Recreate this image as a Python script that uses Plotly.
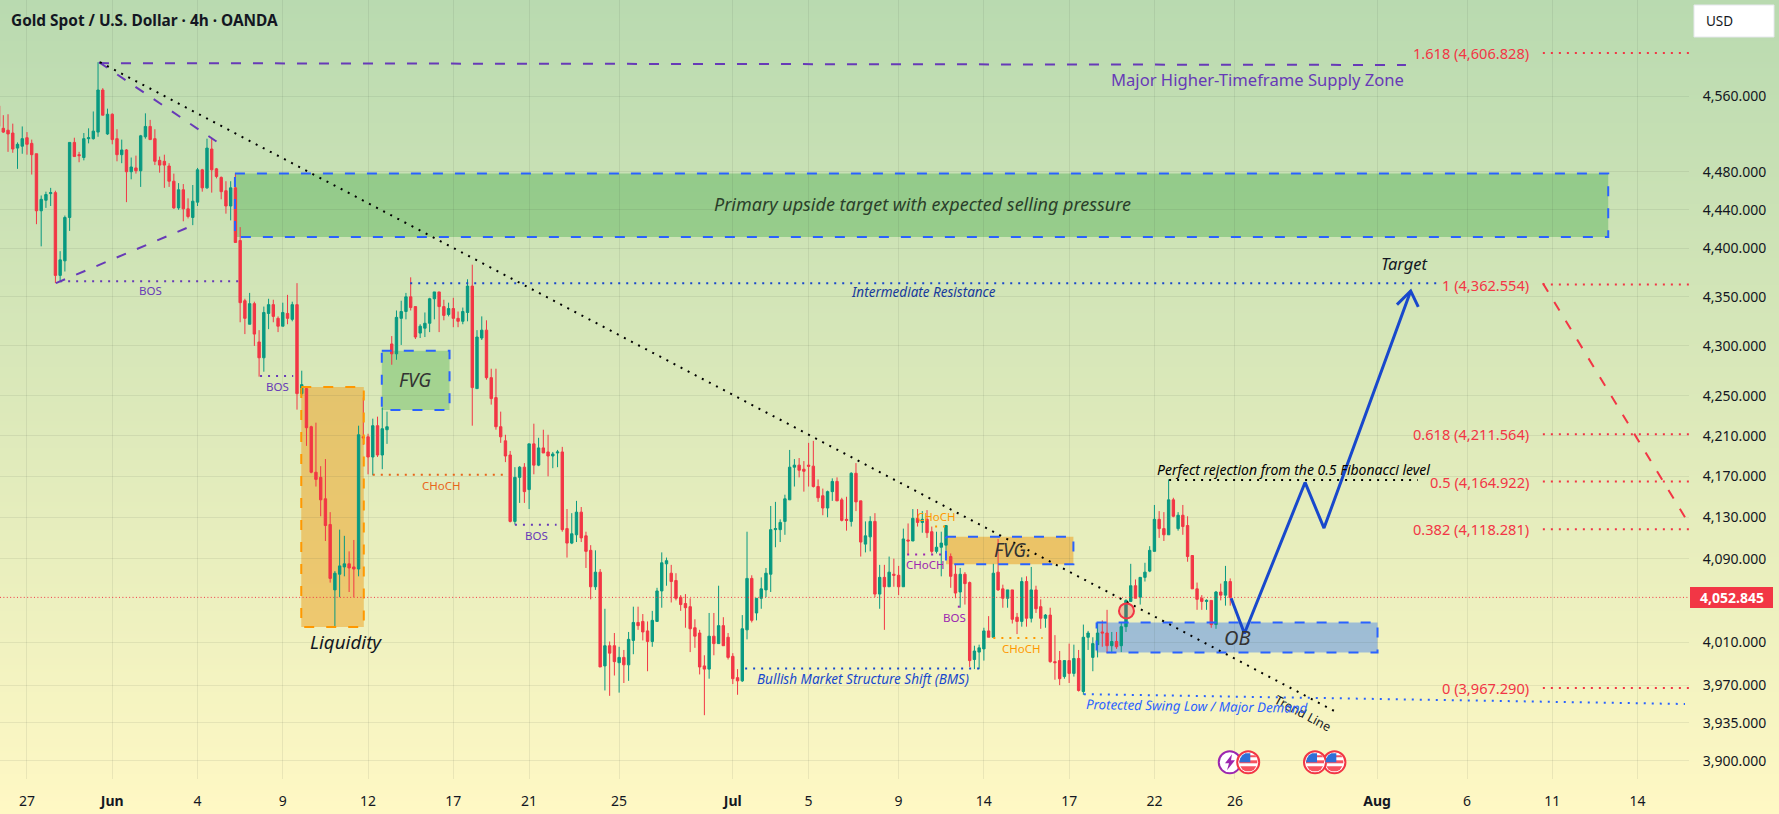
import math
import plotly.graph_objects as go

# --- 4h OHLC for XAU/USD, ten bars per row ---
opens = [
    4550,4526,4524,4521,4505,4507,4516,4510,4499,4439,
    4450,4457,4458,4372,4387,4432,4511,4498,4495,4515,
    4515,4522,4567,4520,4541,4515,4498,4503,4480,4484,
    4481,4517,4528,4515,4492,4491,4486,4470,4442,4461,
    4441,4432,4448,4482,4463,4504,4483,4474,4460,4444,
    4463,4408,4346,4322,4343,4304,4288,4333,4342,4328,
    4320,4333,4327,4342,4252,4257,4219,4174,4169,4148,
    4123,4060,4075,4082,4085,4082,4080,4209,4209,4189,
    4220,4191,4216,4302,4292,4328,4335,4350,4340,4313,
    4318,4323,4348,4355,4340,4332,4338,4328,4325,4334,
    4361,4257,4308,4316,4268,4248,4219,4205,4191,4126,
    4169,4179,4157,4202,4181,4198,4194,4190,4193,4194,
    4119,4105,4113,4135,4112,4098,4063,4077,3988,4007,
    4007,3991,3996,3989,4012,4029,4030,4021,4011,4030,
    4059,4085,4076,4069,4053,4047,4044,4024,4019,3988,
    3985,4016,4009,4026,4015,3997,3977,3974,4022,4071,
    4038,4052,4060,4075,4118,4118,4126,4147,4179,4181,
    4177,4181,4180,4160,4151,4139,4155,4165,4147,4128,
    4126,4173,4146,4104,4111,4126,4056,4072,4063,4075,
    4074,4063,4108,4107,4129,4125,4128,4116,4097,4101,
    4103,4092,4075,4058,4075,4067,3994,4001,4004,4021,
    4015,4077,4061,4052,4060,4034,4030,4068,4033,4060,
    4044,4033,4036,3992,3993,3978,3993,3981,3995,3964,
    4015,3996,4008,4020,4019,4007,4011,4007,4025,4049,
    4064,4053,4072,4078,4097,4128,4119,4113,4147,4119,
    4132,4122,4093,4061,4052,4049,4050,4027,4058,4055,4068,
]
highs = [
    4550,4540,4541,4531,4511,4528,4522,4514,4499,4455,
    4459,4463,4460,4397,4434,4511,4516,4501,4521,4526,
    4544,4597,4569,4547,4542,4525,4514,4504,4495,4497,
    4519,4542,4535,4525,4496,4498,4489,4478,4468,4467,
    4452,4466,4484,4483,4515,4516,4484,4475,4470,4470,
    4478,4422,4348,4354,4345,4316,4340,4348,4347,4330,
    4344,4352,4345,4364,4275,4258,4220,4223,4180,4187,
    4135,4078,4118,4112,4097,4108,4220,4248,4212,4227,
    4229,4238,4234,4310,4336,4346,4354,4370,4340,4322,
    4334,4349,4355,4355,4347,4344,4349,4335,4339,4368,
    4383,4316,4330,4326,4277,4277,4234,4211,4195,4179,
    4180,4183,4202,4222,4208,4216,4211,4194,4196,4199,
    4138,4134,4146,4140,4116,4103,4098,4080,4042,4011,
    4019,4006,4003,4020,4044,4044,4037,4030,4040,4062,
    4096,4091,4084,4076,4055,4056,4052,4032,4022,3998,
    4038,4038,4064,4034,4019,4000,3985,4036,4116,4074,
    4052,4072,4081,4141,4145,4128,4152,4196,4187,4188,
    4185,4203,4205,4167,4158,4156,4168,4169,4149,4150,
    4174,4183,4146,4126,4131,4134,4084,4084,4092,4090,
    4083,4119,4124,4138,4138,4136,4137,4121,4116,4116,
    4122,4095,4084,4081,4077,4068,4007,4008,4024,4035,
    4085,4109,4065,4060,4060,4038,4072,4073,4082,4064,
    4051,4037,4043,4017,4002,3993,4009,4008,4003,4027,
    4021,4015,4029,4031,4041,4020,4020,4029,4051,4085,
    4070,4072,4086,4102,4142,4136,4135,4167,4149,4135,
    4142,4131,4093,4067,4055,4051,4050,4059,4066,4083,4071,
]
lows = [
    4526,4521,4501,4500,4483,4499,4498,4477,4425,4402,
    4442,4444,4364,4366,4376,4418,4496,4490,4492,4510,
    4514,4517,4540,4519,4509,4491,4489,4448,4472,4478,
    4464,4515,4514,4487,4479,4463,4464,4441,4440,4428,
    4431,4424,4444,4459,4462,4458,4473,4451,4436,4429,
    4406,4324,4312,4322,4300,4269,4274,4317,4324,4314,
    4320,4322,4325,4236,4250,4200,4173,4160,4131,4107,
    4067,4024,4053,4073,4058,4053,4073,4201,4172,4171,
    4189,4177,4202,4281,4286,4301,4327,4336,4307,4308,
    4309,4314,4327,4314,4326,4330,4319,4319,4322,4325,
    4220,4257,4306,4266,4241,4216,4203,4184,4125,4123,
    4144,4144,4138,4172,4180,4193,4170,4178,4179,4116,
    4091,4104,4106,4106,4081,4051,4060,3987,3965,3960,
    3979,3963,3972,3974,3999,4022,4012,3983,4006,4030,
    4043,4064,4048,4050,4040,4024,4001,4005,3980,3942,
    3976,3998,4009,4007,3994,3971,3961,3973,4013,4029,
    4031,4042,4053,4058,4101,4106,4113,4147,4160,4169,
    4155,4160,4159,4145,4132,4130,4146,4146,4126,4117,
    4121,4136,4092,4096,4097,4053,4042,4022,4063,4063,
    4055,4063,4094,4107,4121,4115,4110,4095,4095,4073,
    4098,4062,4052,4043,4046,3987,3985,3985,3993,4015,
    4015,4059,4043,4043,4028,4018,4025,4025,4029,4038,
    4023,4024,3991,3975,3970,3976,3972,3978,3964,3961,
    4003,3983,3996,4006,4000,4000,4004,4001,4020,4049,
    4052,4046,4068,4077,4097,4110,4107,4113,4130,4117,
    4113,4087,4061,4041,4041,4041,4024,4023,4050,4045,4045,
]
closes = [
    4528,4522,4520,4504,4509,4515,4509,4498,4439,4451,
    4456,4458,4372,4388,4432,4511,4496,4497,4515,4516,
    4523,4567,4540,4541,4514,4498,4503,4480,4485,4481,
    4518,4528,4514,4491,4487,4487,4470,4442,4461,4441,
    4433,4449,4482,4463,4505,4482,4475,4459,4444,4463,
    4406,4344,4328,4343,4312,4288,4334,4342,4330,4320,
    4334,4328,4342,4252,4261,4218,4174,4167,4147,4122,
    4071,4076,4083,4085,4081,4080,4211,4208,4189,4220,
    4191,4217,4219,4292,4329,4335,4350,4339,4309,4320,
    4323,4348,4355,4340,4331,4338,4328,4325,4335,4361,
    4258,4309,4316,4268,4247,4219,4209,4190,4126,4169,
    4179,4155,4202,4181,4198,4193,4190,4192,4194,4118,
    4105,4114,4135,4110,4097,4063,4077,3987,4007,4000,
    3992,3996,3989,4013,4029,4026,4020,4011,4031,4059,
    4086,4088,4068,4052,4046,4043,4023,4016,3987,3985,
    4016,4009,4026,4007,3996,3976,3974,4023,4071,4031,
    4052,4061,4076,4118,4119,4125,4148,4179,4181,4176,
    4175,4180,4160,4149,4139,4155,4165,4146,4127,4127,
    4173,4145,4106,4112,4126,4056,4072,4063,4077,4074,
    4063,4109,4107,4129,4125,4128,4115,4097,4101,4105,
    4122,4073,4057,4075,4066,3993,4002,4005,4021,4015,
    4076,4060,4052,4060,4032,4030,4068,4033,4060,4042,
    4033,4036,3992,3991,3976,3993,3981,3995,3965,4015,
    4019,4009,4019,4019,4007,4011,4006,4025,4050,4064,
    4052,4072,4077,4098,4128,4119,4113,4147,4131,4132,
    4121,4092,4061,4051,4049,4050,4027,4058,4055,4068,4052.845,
]

# --- Axis labels ---
price_ticks = [4560, 4480, 4440, 4400, 4350, 4300, 4250, 4210, 4170, 4130, 4090, 4010, 3970, 3935, 3900]
price_labels = ["4,560.000", "4,480.000", "4,440.000", "4,400.000", "4,350.000", "4,300.000", "4,250.000",
                "4,210.000", "4,170.000", "4,130.000", "4,090.000", "4,010.000", "3,970.000", "3,935.000", "3,900.000"]
date_bars = [6, 24, 42, 60, 78, 96, 112, 131, 155, 171, 190, 208, 226, 244, 261, 291, 310, 328, 346]
date_labels = ["27", "<b>Jun</b>", "4", "9", "12", "17", "21", "25", "<b>Jul</b>", "5", "9", "14", "17", "22", "26",
               "<b>Aug</b>", "6", "11", "14"]

# --- Fibonacci levels ---
fib_ratios = ["1.618", "1", "0.618", "0.5", "0.382", "0"]
fib_prices = [4606.828, 4362.554, 4211.564, 4164.922, 4118.281, 3967.290]
last_price = 4052.845

W, H = 1779, 814
FONT = "Noto Sans"
INK = "#131722"
RED = "#f23645"
GREEN = "#089981"
BLUE = "#2962ff"
NAVY = "#1848cc"
DEEP_NAVY = "#173a9c"
PURPLE = "#673ab7"
MAGENTA = "#9c27b0"
ORANGE = "#ff9800"
DOTS = "2px,6px"
DASHES = "10px,12px"
bars = list(range(len(opens)))

fig = go.Figure()

# Page-wide vertical gradient sits on its own full-bleed axes
fig.add_trace(go.Heatmap(x=[0, 1], y=[0, 1], z=[[0, 0], [1, 1]], zsmooth="best", showscale=False, hoverinfo="skip",
                         colorscale=[[0, "#fff8c4"], [1, "#b9dab0"]]))

shapes = []
notes = []


def page_x(px):
    return px / W


def page_y(py):
    return 1 - py / H


def polyline(xs, ys, color, width=2, dash=None):
    fig.add_trace(go.Scatter(x=xs, y=ys, mode="lines", xaxis="x2", yaxis="y2", showlegend=False, hoverinfo="skip",
                             line=dict(color=color, width=width, dash=dash)))


def zone(x0, x1, top, bottom, fill, edge):
    shapes.append(dict(type="rect", xref="x2", yref="y2", x0=x0, x1=x1, y0=bottom, y1=top, fillcolor=fill,
                       line=dict(width=0), layer="below"))
    polyline([x0, x1, x1, x0, x0], [top, top, bottom, bottom, top], edge, 2, DASHES)


def note(text, bar, price, size, color, italic=False, bold=False, angle=0, anchor="center"):
    body = f"<b>{text}</b>" if bold else text
    notes.append(dict(text=body, x=bar, y=math.log10(price), xref="x2", yref="y2", showarrow=False, xanchor=anchor,
                      yanchor="middle", textangle=angle,
                      font=dict(family=FONT, size=size, color=color, style="italic" if italic else "normal")))


def page_note(text, px, py, size, color, anchor="left"):
    notes.append(dict(text=text, x=page_x(px), y=page_y(py), xref="paper", yref="paper", showarrow=False,
                      xanchor=anchor, yanchor="middle", font=dict(family=FONT, size=size, color=color)))


def page_path(points, fill, line_color=None, line_width=0):
    d = "M" + " L".join(f"{page_x(px):.5f},{page_y(py):.5f}" for px, py in points) + " Z"
    shapes.append(dict(type="path", path=d, xref="paper", yref="paper", fillcolor=fill, layer="above",
                       line=dict(color=line_color or fill, width=line_width)))


# Shaded zones
zone(49.9, 339.8, 4478, 4411.7, "rgba(76,175,80,0.42)", BLUE)
zone(80.9, 95.2, 4295, 4235.6, "rgba(76,175,80,0.38)", BLUE)
zone(63.9, 77.1, 4258.5, 4024.7, "rgba(237,160,32,0.50)", ORANGE)
zone(200.0, 226.9, 4111, 4084.6, "rgba(237,160,32,0.55)", BLUE)
zone(231.8, 291.1, 4029, 4000.6, "rgba(9,92,252,0.35)", BLUE)

# Candles
fig.add_trace(go.Candlestick(x=bars, open=opens, high=highs, low=lows, close=closes, xaxis="x2", yaxis="y2",
                             showlegend=False, hoverinfo="skip", whiskerwidth=0,
                             increasing=dict(line=dict(color=GREEN, width=1), fillcolor=GREEN),
                             decreasing=dict(line=dict(color=RED, width=1), fillcolor=RED)))

# Last traded price
polyline([0.3, 356.85], [last_price, last_price], RED, 1, "1px,2.4px")

# Purple swing structure
polyline([21.2, 297.1], [4596, 4594], PURPLE, 2, DASHES)
polyline([21.2, 46.0], [4597, 4512], PURPLE, 2, DASHES)
polyline([12.1, 39.7], [4364, 4421], PURPLE, 2, DASHES)

# Structure-break levels
polyline([13.0, 50.8], [4366, 4366], PURPLE, 2, DOTS)
polyline([55.2, 62.2], [4269.7, 4269.7], PURPLE, 2, DOTS)
polyline([109.0, 117.8], [4122.7, 4122.7], PURPLE, 2, DOTS)
polyline([79.0, 107.6], [4171.5, 4171.5], "#e8651a", 2, DOTS)
polyline([197.7, 199.8], [4121, 4121], ORANGE, 2, DOTS)
polyline([191.8, 199.4], [4094, 4094], MAGENTA, 2, DOTS)
polyline([202.5, 203.2], [4044, 4044], MAGENTA, 2, DOTS)
polyline([210.0, 220.4], [4014.4, 4014.4], ORANGE, 2, DOTS)
polyline([157.6, 207.9], [3985.5, 3985.5], NAVY, 2, DOTS)
polyline([86.9, 303.7], [4364, 4364], NAVY, 2, DOTS)
polyline([229.1, 356.0], [3961.6, 3952.4], BLUE, 2, DOTS)
polyline([247.1, 299.6], [4166.5, 4166.5], "#000000", 2, DOTS)

# Descending trend line
polyline([21.4, 282.8], [4597, 3944], "#000000", 2, DOTS)

# Fibonacci levels
for ratio, level in zip(fib_ratios, fib_prices):
    polyline([326.0, 356.85], [level, level], RED, 2, DOTS)
    note(f"{ratio} ({level:,.3f})", 323.6, level, 14.6, RED, anchor="right")

# Projected path and downside leg
polyline([260.2, 263.0, 275.8, 279.8, 298.1], [4052, 4018.5, 4164, 4119.5, 4356], NAVY, 3)
polyline([295.2, 298.1, 299.7], [4342, 4356, 4339.6], NAVY, 3)
polyline([326.0, 356.0], [4364, 4130], RED, 2, DASHES)

# Highlighted retest
fig.add_trace(go.Scatter(x=[238.1], y=[4040], mode="markers", xaxis="x2", yaxis="y2", showlegend=False,
                         hoverinfo="skip",
                         marker=dict(size=15, color="rgba(242,54,69,0.25)", line=dict(color=RED, width=2))))

# Economic-calendar markers along the bottom
fig.add_trace(go.Scatter(x=[259.9], y=[3898.5], mode="markers", xaxis="x2", yaxis="y2", showlegend=False,
                         hoverinfo="skip", marker=dict(size=22, color="#ffffff", line=dict(color=MAGENTA, width=2))))
fig.add_trace(go.Scatter(x=[282.0, 277.9, 263.8], y=[3898.5] * 3, mode="markers", xaxis="x2", yaxis="y2",
                         showlegend=False, hoverinfo="skip",
                         marker=dict(size=22, color="#ffffff", line=dict(color=RED, width=2))))

for cx in (1334.3, 1315.0, 1248.3):
    cy = 762.3
    page_path([(cx - 9, cy - 2), (cx + 9, cy - 2), (cx + 9, cy + 1), (cx - 9, cy + 1)], "#f7525f")
    page_path([(cx - 2, cy - 7), (cx + 7, cy - 7), (cx + 8, cy - 5), (cx - 2, cy - 5)], "#f7525f")
    page_path([(cx - 8, cy + 4), (cx + 8, cy + 4), (cx + 6, cy + 7), (cx + 3, cy + 9), (cx - 3, cy + 9), (cx - 6, cy + 7)],
              "#f7525f")
    page_path([(cx - 6, cy - 7), (cx - 3, cy - 9), (cx + 2, cy - 9), (cx + 2, cy), (cx - 9, cy), (cx - 8, cy - 4)],
              "#2f6fd6")
cx = 1230.0
cy = 762.3
page_path([(cx + 2, cy - 8), (cx - 5, cy + 1), (cx - 1, cy + 1), (cx - 3, cy + 8), (cx + 5, cy - 2), (cx + 1, cy - 2)],
          MAGENTA)

# Drawing labels
note("Major Higher-Timeframe Supply Zone", 265.7, 4578.4, 16.6, PURPLE)
note("Primary upside target with expected selling pressure", 195.0, 4445.7, 18, "#2a3f2a", italic=True)
note("Target", 296.8, 4384.6, 16.5, INK, italic=True)
note("Intermediate Resistance", 195.3, 4354.5, 13.5, DEEP_NAVY, italic=True)
note("FVG", 87.9, 4265.6, 19, "#333333", italic=True)
note("FVG.", 214.1, 4098.5, 19, "#333333", italic=True)
note("Liquidity", 73.3, 4010.3, 18.8, INK, italic=True)
note("OB", 261.5, 4015, 20, "#333333", italic=True)
note("Trend Line", 275.4, 3943.5, 12.5, INK, angle=28)
note("Perfect rejection from the 0.5 Fibonacci level", 273.3, 4177, 14, "#000000", italic=True)
note("Bullish Market Structure Shift (BMS)", 182.5, 3975.5, 13.5, NAVY, italic=True)
note("Protected Swing Low / Major Demand", 252.9, 3950.4, 13.3, BLUE, italic=True, angle=1)
note("BOS", 32.0, 4356.5, 11.5, PURPLE)
note("BOS", 58.8, 4259, 11.5, PURPLE)
note("BOS", 113.5, 4112, 11.5, PURPLE)
note("BOS", 201.7, 4034, 11.5, MAGENTA)
note("CHoCH", 93.5, 4161, 11.5, "#e8651a")
note("CHoCH", 197.9, 4131, 11.5, ORANGE)
note("CHoCH", 195.6, 4084, 11.5, MAGENTA)
note("CHoCH", 216.0, 4004, 11.5, ORANGE)

# Chrome: header, currency button and last-price tag
page_note("<b>Gold Spot / U.S. Dollar · 4h · OANDA</b>", 9, 20.5, 15.4, INK)
shapes.append(dict(type="rect", xref="paper", yref="paper", x0=page_x(1694), x1=page_x(1774), y0=page_y(37),
                   y1=page_y(5), fillcolor="#ffffff", line=dict(color="#e6e8ee", width=1), layer="above"))
page_note("USD", 1704, 21, 13.5, INK)
shapes.append(dict(type="rect", xref="paper", yref="paper", x0=page_x(1690), x1=page_x(1773), y0=page_y(608),
                   y1=page_y(587), fillcolor=RED, line=dict(width=0), layer="above"))
page_note("<b>4,052.845</b>", 1731.5, 597.3, 14, "#ffffff", anchor="center")

GRID = "rgba(60,70,60,0.09)"
fig.update_layout(
    width=W, height=H, margin=dict(l=0, r=0, t=0, b=0),
    paper_bgcolor="#fff8c4", plot_bgcolor="rgba(0,0,0,0)",
    showlegend=False, hovermode=False, boxgap=0.28,
    shapes=shapes, annotations=notes,
    xaxis=dict(domain=[0, 1], range=[0, 1], visible=False, fixedrange=True),
    yaxis=dict(domain=[0, 1], range=[0, 1], visible=False, fixedrange=True),
    xaxis2=dict(domain=[0, 1689 / W], range=[0.304, 356.85], anchor="y2", tickmode="array",
                tickvals=date_bars, ticktext=date_labels, showgrid=True, gridcolor=GRID, gridwidth=1, zeroline=False,
                showline=False, ticks="outside", ticklen=9, tickcolor="rgba(0,0,0,0)", rangeslider=dict(visible=False),
                tickfont=dict(family=FONT, size=14, color=INK), tickangle=0, fixedrange=True),
    yaxis2=dict(domain=[1 - 779 / H, 1], type="log", range=[3.589194, 3.668833], anchor="x2", side="right",
                tickmode="array", tickvals=price_ticks, ticktext=price_labels, showgrid=True, gridcolor=GRID,
                gridwidth=1, zeroline=False, showline=False, ticks="outside", ticklen=10,
                tickcolor="rgba(0,0,0,0)", tickfont=dict(family=FONT, size=14, color=INK), fixedrange=True),
)

fig.write_html("out.html", config={"displayModeBar": False})
